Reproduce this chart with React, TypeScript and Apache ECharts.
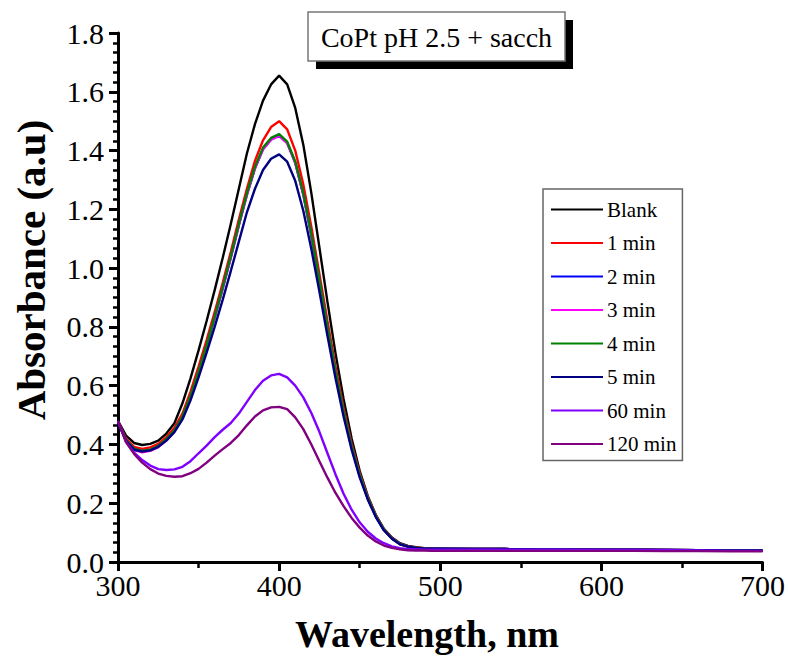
import React, { useEffect, useRef } from "react";
import * as echarts from "echarts";

const wavelengths = [
  300, 305, 310, 315, 320, 325, 330, 335, 340, 345, 350, 355, 360, 365, 370, 375, 380, 385, 390, 395,
  400, 405, 410, 415, 420, 425, 430, 435, 440, 445, 450, 455, 460, 465, 470, 475, 480, 485, 490, 495,
  500, 520, 540, 560, 580, 600, 620, 640, 660, 680, 700,
];

const blank = [
  0.480, 0.430, 0.405, 0.398, 0.402, 0.413, 0.437, 0.472, 0.540, 0.625, 0.720, 0.820, 0.925, 1.035, 1.150, 1.270, 1.390, 1.490, 1.570, 1.625,
  1.655, 1.625, 1.545, 1.420, 1.255, 1.070, 0.885, 0.710, 0.555, 0.420, 0.310, 0.225, 0.160, 0.113, 0.083, 0.064, 0.055, 0.050, 0.047, 0.046,
  0.045, 0.044, 0.044, 0.043, 0.043, 0.043, 0.042, 0.041, 0.040, 0.039, 0.039,
];

const min1 = [
  0.478, 0.420, 0.392, 0.385, 0.390, 0.402, 0.425, 0.457, 0.505, 0.580, 0.665, 0.755, 0.850, 0.950, 1.055, 1.165, 1.270, 1.365, 1.435, 1.480,
  1.500, 1.472, 1.400, 1.285, 1.140, 0.980, 0.820, 0.665, 0.525, 0.402, 0.302, 0.222, 0.160, 0.112, 0.082, 0.062, 0.053, 0.049, 0.047, 0.046,
  0.045, 0.044, 0.044, 0.043, 0.043, 0.042, 0.042, 0.041, 0.040, 0.039, 0.039,
];

const min2 = [
  0.477, 0.414, 0.384, 0.377, 0.381, 0.394, 0.416, 0.446, 0.492, 0.562, 0.645, 0.735, 0.832, 0.932, 1.036, 1.146, 1.250, 1.340, 1.405, 1.438,
  1.451, 1.426, 1.359, 1.251, 1.111, 0.956, 0.797, 0.645, 0.510, 0.391, 0.295, 0.217, 0.156, 0.110, 0.080, 0.061, 0.052, 0.048, 0.046, 0.045,
  0.045, 0.044, 0.044, 0.043, 0.043, 0.042, 0.042, 0.041, 0.040, 0.039, 0.039,
];

const min3 = [
  0.477, 0.413, 0.381, 0.373, 0.378, 0.391, 0.414, 0.444, 0.491, 0.561, 0.644, 0.734, 0.831, 0.931, 1.035, 1.145, 1.249, 1.339, 1.404, 1.437,
  1.450, 1.425, 1.358, 1.250, 1.110, 0.955, 0.796, 0.644, 0.509, 0.390, 0.294, 0.216, 0.156, 0.109, 0.080, 0.061, 0.052, 0.048, 0.046, 0.045,
  0.045, 0.044, 0.044, 0.043, 0.043, 0.042, 0.042, 0.041, 0.040, 0.039, 0.039,
];

const min4 = [
  0.478, 0.415, 0.385, 0.378, 0.382, 0.395, 0.418, 0.448, 0.495, 0.565, 0.648, 0.738, 0.835, 0.935, 1.040, 1.150, 1.255, 1.345, 1.410, 1.443,
  1.456, 1.430, 1.363, 1.255, 1.115, 0.960, 0.800, 0.648, 0.512, 0.393, 0.296, 0.218, 0.157, 0.110, 0.080, 0.061, 0.052, 0.048, 0.046, 0.045,
  0.045, 0.044, 0.044, 0.043, 0.043, 0.042, 0.042, 0.041, 0.040, 0.039, 0.039,
];

const min5 = [
  0.475, 0.412, 0.382, 0.376, 0.380, 0.392, 0.413, 0.442, 0.485, 0.550, 0.628, 0.712, 0.800, 0.893, 0.990, 1.090, 1.190, 1.270, 1.334, 1.372,
  1.387, 1.362, 1.297, 1.195, 1.065, 0.920, 0.770, 0.625, 0.495, 0.382, 0.288, 0.213, 0.153, 0.108, 0.079, 0.060, 0.052, 0.048, 0.046, 0.045,
  0.045, 0.044, 0.044, 0.043, 0.043, 0.042, 0.042, 0.041, 0.040, 0.039, 0.039,
];

const min60 = [
  0.480, 0.408, 0.372, 0.347, 0.328, 0.316, 0.313, 0.315, 0.324, 0.343, 0.370, 0.396, 0.425, 0.450, 0.473, 0.505, 0.545, 0.585, 0.617, 0.635,
  0.640, 0.628, 0.600, 0.560, 0.507, 0.443, 0.370, 0.298, 0.232, 0.178, 0.135, 0.103, 0.080, 0.064, 0.053, 0.047, 0.044, 0.043, 0.042, 0.042,
  0.042, 0.042, 0.042, 0.042, 0.042, 0.041, 0.041, 0.040, 0.039, 0.038, 0.038,
];

const min120 = [
  0.480, 0.408, 0.368, 0.338, 0.316, 0.301, 0.293, 0.290, 0.292, 0.302, 0.317, 0.338, 0.362, 0.384, 0.405, 0.432, 0.465, 0.495, 0.516, 0.526,
  0.528, 0.520, 0.492, 0.452, 0.400, 0.343, 0.287, 0.235, 0.190, 0.150, 0.117, 0.090, 0.070, 0.056, 0.048, 0.043, 0.040, 0.039, 0.039, 0.038,
  0.038, 0.038, 0.038, 0.038, 0.038, 0.038, 0.038, 0.037, 0.037, 0.036, 0.036,
];

const seriesNames = ["Blank", "1 min", "2 min", "3 min", "4 min", "5 min", "60 min", "120 min"];
const seriesValues = [blank, min1, min2, min3, min4, min5, min60, min120];
const seriesColors = ["#000000", "#ff0000", "#0000ff", "#ff00ff", "#008000", "#000080", "#8000ff", "#800080"];

const titleText = "CoPt pH 2.5 + sacch";
const xTitle = "Wavelength, nm";
const yTitle = "Absorbance (a.u)";

const FONT = '"Liberation Serif", "Times New Roman", serif';

export default function App() {
  const ref = useRef<HTMLDivElement>(null);
  useEffect(() => {
    if (!ref.current) return;
    const chart = echarts.init(ref.current, null, { renderer: "svg" });
    chart.setOption({
      animation: false,
      backgroundColor: "#ffffff",
      textStyle: { fontFamily: FONT },
      grid: { left: 118, right: 24, top: 33, bottom: 98, containLabel: false },
      xAxis: {
        type: "value",
        min: 300,
        max: 700,
        interval: 100,
        axisLine: { lineStyle: { color: "#000", width: 3 } },
        axisTick: { show: true, inside: false, length: 9, lineStyle: { color: "#000", width: 3 } },
        minorTick: { show: true, splitNumber: 2, length: 6, lineStyle: { color: "#000", width: 2.5 } },
        splitLine: { show: false },
        axisLabel: { fontFamily: FONT, fontSize: 30, color: "#000", margin: 8 },
      },
      yAxis: {
        type: "value",
        min: 0,
        max: 1.8,
        interval: 0.2,
        axisLine: { show: true, lineStyle: { color: "#000", width: 3 } },
        axisTick: { show: true, inside: false, length: 9, lineStyle: { color: "#000", width: 3 } },
        minorTick: { show: true, splitNumber: 6, length: 5, lineStyle: { color: "#000", width: 2.5 } },
        splitLine: { show: false },
        axisLabel: {
          fontFamily: FONT,
          fontSize: 30,
          color: "#000",
          margin: 14,
          formatter: (v: number) => v.toFixed(1),
        },
      },
      legend: {
        orient: "vertical",
        left: 543,
        top: 189,
        padding: [10, 6, 6, 8],
        itemWidth: 52,
        itemHeight: 14,
        itemGap: 12.5,
        borderColor: "#666",
        borderWidth: 1.5,
        backgroundColor: "#fff",
        icon: "path://M0,6 L52,6 L52,8 L0,8 Z",
        textStyle: { fontFamily: FONT, fontSize: 21, color: "#000", lineHeight: 20, padding: [0, 0, 0, -1] },
        data: seriesNames,
      },
      graphic: [
        { type: "rect", shape: { x: 316, y: 20, width: 257, height: 49 }, style: { fill: "#000" }, z: 10 },
        {
          type: "rect",
          shape: { x: 308, y: 12, width: 257, height: 49 },
          style: { fill: "#fff", stroke: "#777", lineWidth: 1.5 },
          z: 11,
        },
        {
          type: "text",
          x: 436.5,
          y: 37,
          style: {
            text: titleText,
            fontFamily: FONT,
            fontSize: 28,
            fill: "#000",
            align: "center",
            verticalAlign: "middle",
          },
          z: 12,
        },
        {
          type: "text",
          x: 427,
          y: 634,
          style: {
            text: xTitle,
            fontFamily: FONT,
            fontSize: 38,
            fontWeight: "bold",
            fill: "#000",
            align: "center",
            verticalAlign: "middle",
          },
          z: 12,
        },
        {
          type: "text",
          x: 31,
          y: 270,
          rotation: Math.PI / 2,
          style: {
            text: yTitle,
            fontFamily: FONT,
            fontSize: 41,
            fontWeight: "bold",
            fill: "#000",
            align: "center",
            verticalAlign: "middle",
          },
          z: 12,
        },
      ],
      series: seriesNames.map((name, i) => ({
        name,
        type: "line",
        data: wavelengths.map((w, j) => [w, seriesValues[i][j]]),
        showSymbol: false,
        symbol: "none",
        smooth: false,
        lineStyle: { color: seriesColors[i], width: 2.4 },
        itemStyle: { color: seriesColors[i] },
        z: 2 + i,
      })),
    });
    return () => chart.dispose();
  }, []);
  return <div ref={ref} style={{ position: "absolute", left: 0, top: 0, width: 788, height: 660 }} />;
}
